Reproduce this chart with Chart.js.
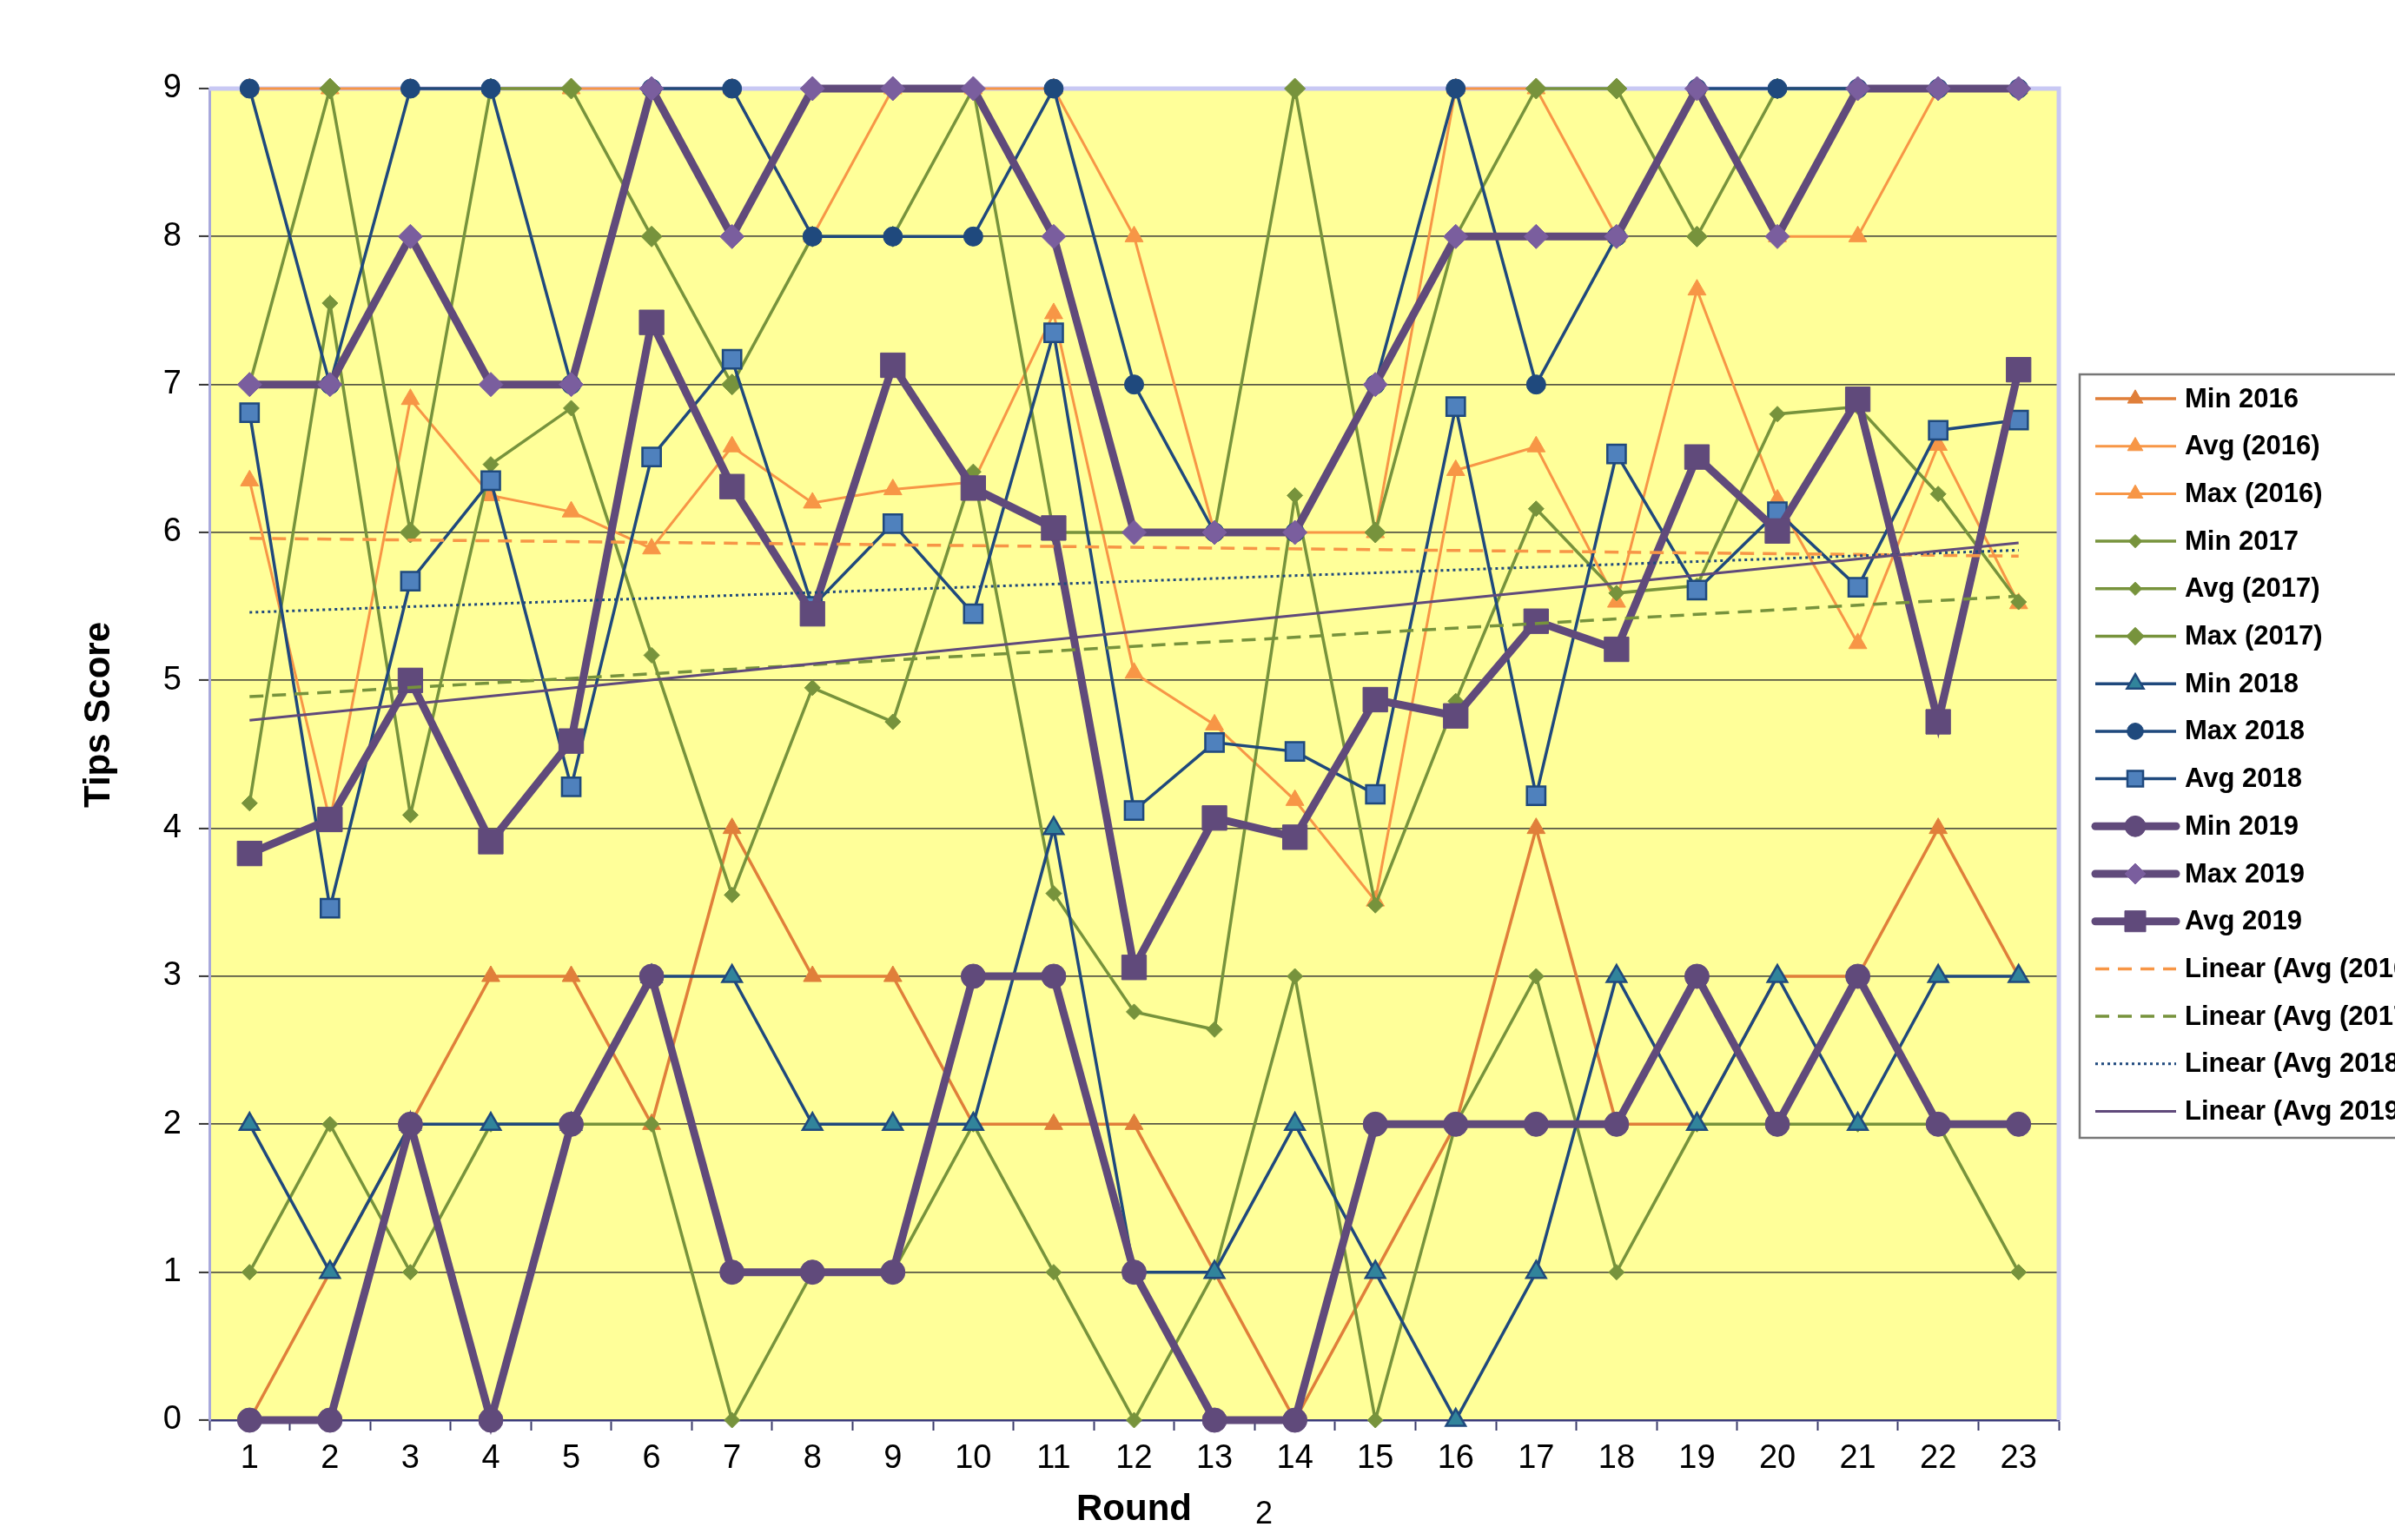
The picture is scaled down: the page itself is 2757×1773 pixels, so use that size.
<!DOCTYPE html>
<html>
<head>
<meta charset="utf-8">
<title>Tips Score by Round</title>
<script src="https://cdn.jsdelivr.net/npm/chart.js@4.4.1/dist/chart.umd.min.js"></script>
<style>
  html, body { margin: 0; padding: 0; background: #fff; }
  #wrap { width: 2757px; height: 1773px; }
</style>
</head>
<body>
<div id="wrap"><canvas id="chart" width="2757" height="1773"></canvas></div>
<script>
// rounds on the x axis
const rounds = ['1','2','3','4','5','6','7','8','9','10','11','12','13','14','15','16','17','18','19','20','21','22','23'];

// 2016
const min2016 = [0,1,2,3,3,2,4,3,3,2,2,2,1,0,1,2,4,2,2,3,3,4,3];
const avg2016 = [6.35,4.05,6.9,6.25,6.14,5.89,6.58,6.2,6.29,6.34,7.48,5.05,4.7,4.19,3.51,6.42,6.58,5.53,7.64,6.22,5.25,6.59,5.52];
const max2016 = [9,9,9,9,9,9,9,8,9,9,9,8,6,6,6,9,9,8,9,8,8,9,9];

// 2017
const min2017 = [1,2,1,2,2,2,0,1,1,2,1,0,1,3,0,2,3,1,2,2,2,2,1];
const avg2017 = [4.17,7.55,4.09,6.46,6.84,5.17,3.55,4.95,4.72,6.41,3.56,2.76,2.64,6.25,3.48,4.86,6.16,5.59,5.64,6.8,6.85,6.26,5.53];
const max2017 = [7,9,6,9,9,8,7,8,8,9,6,6,6,9,6,8,9,9,8,9,9,9,9];

// 2018
const min2018 = [2,1,2,2,2,3,3,2,2,2,4,1,1,2,1,0,1,3,2,3,2,3,3];
const max2018 = [9,7,9,9,7,9,9,8,8,8,9,7,6,6,7,9,7,8,9,9,9,9,9];
const avg2018 = [6.81,3.46,5.67,6.35,4.28,6.51,7.17,5.5,6.06,5.45,7.35,4.12,4.58,4.52,4.23,6.85,4.22,6.53,5.61,6.14,5.63,6.69,6.76];

// 2019
const min2019 = [0,0,2,0,2,3,1,1,1,3,3,1,0,0,2,2,2,2,3,2,3,2,2];
const max2019 = [7,7,8,7,7,9,8,9,9,9,8,6,6,6,7,8,8,8,9,8,9,9,9];
const avg2019 = [3.83,4.06,5.0,3.91,4.59,7.42,6.31,5.45,7.13,6.3,6.03,3.06,4.07,3.94,4.87,4.76,5.4,5.21,6.51,6.01,6.9,4.72,7.1];

// trend lines: value at round 1 and at round 23
const trend2016 = [5.96, 5.84];
const trend2017 = [4.89, 5.57];
const trend2018 = [5.46, 5.88];
const trend2019 = [4.73, 5.93];

const yTicks = [0,1,2,3,4,5,6,7,8,9];

const FONT = "Arial, 'Liberation Sans', sans-serif";

function series(label, data, color, width, style, radius, fill, edge) {
    return {
        label: label,
        data: data,
        borderColor: color,
        borderWidth: width,
        pointStyle: style,
        pointRadius: radius,
        pointHoverRadius: radius,
        pointBackgroundColor: fill || color,
        pointBorderColor: edge || fill || color,
        pointBorderWidth: edge ? 2.5 : 1,
        tension: 0,
        fill: false,
        clip: false
    };
}

function trend(label, ends, color, width, dash) {
    return {
        label: label,
        data: rounds.map((r, i) => i === 0 ? ends[0] : (i === rounds.length - 1 ? ends[1] : null)),
        borderColor: color,
        borderWidth: width,
        borderDash: dash,
        pointRadius: 0,
        pointHoverRadius: 0,
        spanGaps: true,
        tension: 0,
        fill: false,
        clip: false
    };
}

const orangeDark = '#E07F3A';
const orange = '#F79646';
const green = '#77933C';
const navy = '#1F497D';
const purple = '#604A7B';

const datasets = [
    series('Min 2016', min2016, orangeDark, 3.5, 'triangle', 12),
    series('Avg (2016)', avg2016, orange, 3, 'triangle', 12),
    series('Max (2016)', max2016, orange, 3, 'triangle', 12),
    series('Min 2017', min2017, green, 3.5, 'rectRot', 9),
    series('Avg (2017)', avg2017, green, 3.5, 'rectRot', 9),
    series('Max (2017)', max2017, green, 3.5, 'rectRot', 12),
    series('Min 2018', min2018, navy, 3.5, 'triangle', 13, '#31849B', navy),
    series('Max 2018', max2018, navy, 3.5, 'circle', 11),
    series('Avg 2018', avg2018, navy, 3.5, 'rect', 15, '#4F81BD', navy),
    series('Min 2019', min2019, purple, 9, 'circle', 14),
    series('Max 2019', max2019, purple, 9, 'rectRot', 14, '#7A5E9E'),
    series('Avg 2019', avg2019, purple, 9, 'rect', 20),
    trend('Linear (Avg (2016))', trend2016, orange, 3.5, [16, 10]),
    trend('Linear (Avg (2017))', trend2017, green, 3.5, [16, 10]),
    trend('Linear (Avg 2018)', trend2018, navy, 3, [3, 4]),
    trend('Linear (Avg 2019)', trend2019, purple, 3, [])
];
// later series are drawn on top
datasets.forEach((d, i) => { d.order = datasets.length - i; });

// yellow plot area and its lavender frame
const plotFrame = {
    id: 'plotFrame',
    beforeDraw(chart) {
        const { ctx, chartArea: a } = chart;
        ctx.save();
        ctx.fillStyle = '#FFFF99';
        ctx.fillRect(a.left, a.top, a.right - a.left, a.bottom - a.top);
        ctx.restore();
    },
    beforeDatasetsDraw(chart) {
        const { ctx, chartArea: a } = chart;
        ctx.save();
        ctx.strokeStyle = '#C8C8F4';
        ctx.lineWidth = 5;
        ctx.beginPath();
        ctx.moveTo(a.left, a.top);
        ctx.lineTo(a.right, a.top);
        ctx.lineTo(a.right, a.bottom);
        ctx.stroke();
        ctx.restore();
    }
};

function marker(ctx, ds, x, y, scale) {
    const opts = { pointStyle: ds.pointStyle, radius: ds.pointRadius * scale, rotation: 0, borderWidth: ds.pointBorderWidth };
    ctx.fillStyle = ds.pointBackgroundColor;
    ctx.strokeStyle = ds.pointBorderColor;
    ctx.lineWidth = ds.pointBorderWidth;
    ctx.setLineDash([]);
    Chart.helpers.drawPoint(ctx, opts, x, y);
}

// axis title on the left, the stray "2" and the boxed legend
const extras = {
    id: 'extras',
    afterDraw(chart) {
        const ctx = chart.ctx;
        ctx.save();
        ctx.fillStyle = '#000';
        ctx.font = 'bold 42px ' + FONT;
        ctx.textAlign = 'center';
        ctx.textBaseline = 'middle';
        ctx.translate(114, 823);
        ctx.rotate(-Math.PI / 2);
        ctx.fillText('Tips Score', 0, 0);
        ctx.restore();

        ctx.save();
        ctx.fillStyle = '#000';
        ctx.font = '36px ' + FONT;
        ctx.textAlign = 'center';
        ctx.textBaseline = 'middle';
        ctx.fillText('2', 1455, 1744);
        ctx.restore();

        // legend
        ctx.save();
        ctx.fillStyle = '#fff';
        ctx.fillRect(2394, 431, 420, 879);
        ctx.strokeStyle = '#777';
        ctx.lineWidth = 2.5;
        ctx.strokeRect(2394, 431, 420, 879);
        chart.data.datasets.forEach((ds, i) => {
            const y = 459 + i * 54.7;
            ctx.strokeStyle = ds.borderColor;
            ctx.lineWidth = ds.borderWidth;
            ctx.setLineDash(ds.borderDash || []);
            ctx.lineCap = ds.borderWidth > 6 ? 'round' : 'butt';
            ctx.beginPath();
            ctx.moveTo(2412, y);
            ctx.lineTo(2505, y);
            ctx.stroke();
            ctx.lineCap = 'butt';
            if (ds.pointRadius > 0) marker(ctx, ds, 2458, y, 0.85);
            ctx.fillStyle = '#000';
            ctx.font = 'bold 31px ' + FONT;
            ctx.textAlign = 'left';
            ctx.textBaseline = 'middle';
            ctx.fillText(ds.label, 2515, y + 1);
        });
        ctx.restore();
    }
};

const chart = new Chart(document.getElementById('chart'), {
    type: 'line',
    data: { labels: rounds, datasets: datasets },
    options: {
        responsive: false,
        devicePixelRatio: 1,
        animation: false,
        events: [],
        layout: { padding: { left: 0, top: 102, right: 387, bottom: 0 } },
        plugins: {
            legend: { display: false },
            tooltip: { enabled: false }
        },
        scales: {
            x: {
                type: 'category',
                offset: true,
                afterFit(scale) { scale.height = 138; },
                grid: {
                    display: true,
                    offset: true,
                    drawOnChartArea: false,
                    drawTicks: true,
                    tickLength: 12,
                    tickColor: '#3A3A6A',
                    tickWidth: 2
                },
                border: { display: true, color: '#3A3A7A', width: 2.5 },
                ticks: {
                    color: '#000',
                    font: { family: FONT, size: 38 },
                    padding: 10,
                    maxRotation: 0,
                    autoSkip: false
                },
                title: {
                    display: true,
                    text: 'Round',
                    color: '#000',
                    font: { family: FONT, size: 42, weight: 'bold', lineHeight: 1.2 },
                    padding: { top: 0, bottom: 9 }
                }
            },
            y: {
                min: yTicks[0],
                max: yTicks[yTicks.length - 1],
                afterFit(scale) { scale.width = 241; },
                afterBuildTicks(scale) { scale.ticks = yTicks.map(v => ({ value: v })); },
                grid: {
                    color: 'rgba(70,70,60,0.9)',
                    lineWidth: 1.8,
                    tickLength: 12,
                    tickColor: '#333',
                    tickWidth: 2
                },
                border: { display: true, color: '#A8A8DC', width: 3 },
                ticks: {
                    color: '#000',
                    font: { family: FONT, size: 38 },
                    padding: 20
                }
            }
        }
    },
    plugins: [plotFrame, extras]
});
</script>
</body>
</html>
